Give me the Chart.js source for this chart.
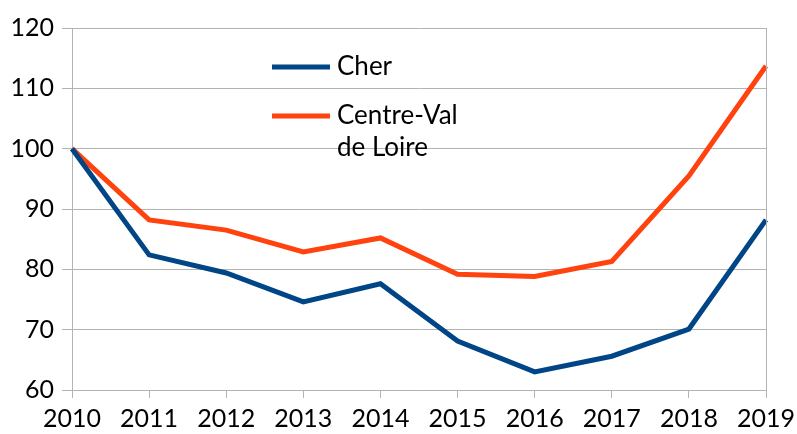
<!DOCTYPE html>
<html>
<head>
<meta charset="utf-8">
<style>
  html, body { margin: 0; padding: 0; background: #fff; }
  #wrap { width: 797px; height: 434px; position: relative; }
</style>
<script src="https://cdn.jsdelivr.net/npm/chart.js"></script>
</head>
<body>
<div id="wrap"><canvas id="c"></canvas></div>
<script>
const years = ['2010', '2011', '2012', '2013', '2014', '2015', '2016', '2017', '2018', '2019'];
const cher = [100, 82.4, 79.4, 74.6, 77.6, 68.1, 63.0, 65.6, 70.1, 88.2];
const centreVal = [100, 88.2, 86.5, 82.9, 85.2, 79.2, 78.8, 81.3, 95.5, 113.7];
const legendLabels = [['Cher'], ['Centre-Val', 'de Loire']];

const BLUE = '#004586';
const ORANGE = '#ff420e';
const GRID = '#b3b3b3';
const FONT = 'Lato, "Open Sans", sans-serif';

// legend drawn by hand so the second label can wrap on two lines
const manualLegend = {
  id: 'manualLegend',
  afterDraw(chart) {
    const ctx = chart.ctx;
    const colors = [BLUE, ORANGE];
    const rows = [67, 116];
    ctx.save();
    ctx.font = '26px ' + FONT;
    ctx.fillStyle = '#000';
    ctx.textBaseline = 'middle';
    legendLabels.forEach((lines, i) => {
      ctx.strokeStyle = colors[i];
      ctx.lineWidth = 5;
      ctx.beginPath();
      ctx.moveTo(272, rows[i]);
      ctx.lineTo(330, rows[i]);
      ctx.stroke();
      lines.forEach((t, j) => ctx.fillText(t, 337, rows[i] + j * 32));
    });
    // right border of the plot
    const a = chart.chartArea;
    ctx.strokeStyle = GRID;
    ctx.lineWidth = 1;
    ctx.beginPath();
    ctx.moveTo(Math.round(a.right) + 0.5, a.top);
    ctx.lineTo(Math.round(a.right) + 0.5, a.bottom + 8);
    ctx.stroke();
    ctx.restore();
  }
};

new Chart(document.getElementById('c'), {
  type: 'line',
  data: {
    labels: years,
    datasets: [
      { label: 'Cher', data: cher, borderColor: BLUE, borderWidth: 5, pointRadius: 0, tension: 0 },
      { label: 'Centre-Val de Loire', data: centreVal, borderColor: ORANGE, borderWidth: 5, pointRadius: 0, tension: 0 }
    ]
  },
  options: {
    responsive: true,
    maintainAspectRatio: false,
    animation: false,
    layout: { padding: { top: 28, right: 0, left: 0, bottom: 0 } },
    plugins: { legend: { display: false }, tooltip: { enabled: false } },
    scales: {
      x: {
        offset: false,
        grid: {
          color: c => (c.index === 0 || c.index === years.length - 1) ? GRID : 'rgba(0,0,0,0)',
          tickColor: GRID,
          tickLength: 8,
          drawOnChartArea: false
        },
        border: { color: GRID },
        ticks: { color: '#000', font: { family: FONT, size: 25 }, padding: 6, maxRotation: 0, autoSkip: false },
        afterFit: s => { s.height = 44; s.paddingRight = 31; s.paddingLeft = 0; }
      },
      y: {
        min: 60,
        max: 120,
        grid: { color: GRID, tickColor: GRID, tickLength: 10 },
        border: { color: GRID },
        ticks: { stepSize: 10, color: '#000', font: { family: FONT, size: 25 }, padding: 8 },
        afterFit: s => { s.width = 72; }
      }
    }
  },
  plugins: [manualLegend]
});
</script>
</body>
</html>
